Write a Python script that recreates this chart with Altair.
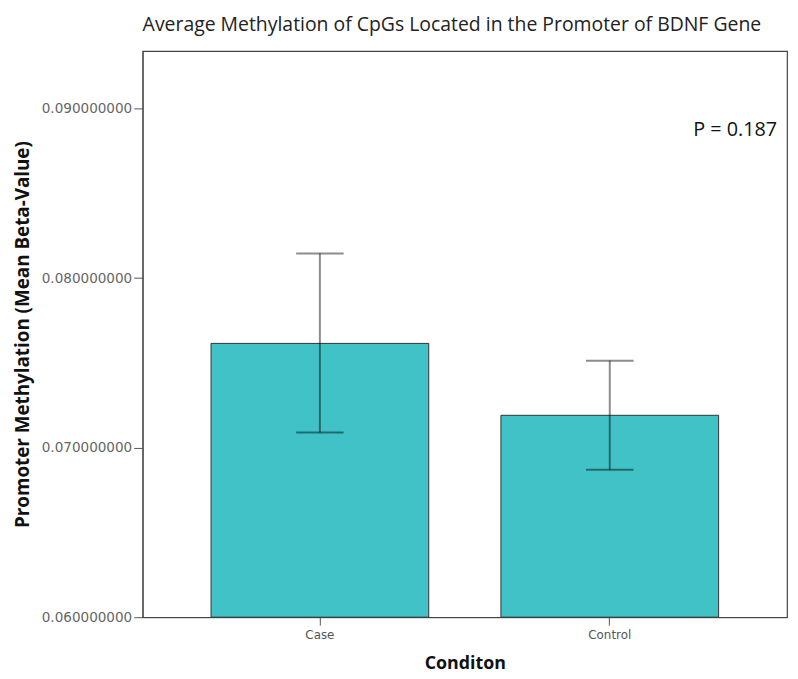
import altair as alt
import pandas as pd

conditions = ["Case", "Control"]
means = [0.07615, 0.07191]
lower = [0.07090, 0.06870]
upper = [0.08146, 0.07513]

p_label = ["P = 0.187"]
p_y = [0.08872]

df = pd.DataFrame({"cond": conditions, "mean": means, "lo": lower, "hi": upper})
ann = pd.DataFrame({"label": p_label, "y": p_y})

ydom = [0.06, 0.0934]

x_enc = alt.X("cond:N", title="Conditon",
              scale=alt.Scale(paddingInner=0.249, paddingOuter=0.236),
              axis=alt.Axis(labelAngle=0, labelFont="DejaVu Sans", labelFontSize=12,
                            labelColor="#555", tickColor="#555", tickSize=8,
                            domainColor="#444", titleFont="Open Sans", titleFontSize=18,
                            titleFontWeight="bold", titleColor="#111", titlePadding=14,
                            labelPadding=5))
y_scale = alt.Scale(domain=ydom, nice=False, zero=False)
y_axis = alt.Axis(values=[0.06, 0.07, 0.08, 0.09], format=".9f", labelFont="DejaVu Sans",
                  labelFontSize=13.7, labelColor="#666", tickColor="#555", tickSize=9,
                  domainColor="#444", grid=False, titleFont="Open Sans", titleFontSize=19,
                  titleFontWeight="bold", titleColor="#111", titlePadding=9, labelPadding=2)

bars = alt.Chart(df).mark_bar(color="#40C2C6", stroke="#333", strokeWidth=1).encode(
    x=x_enc,
    y=alt.Y("mean:Q", scale=y_scale, axis=y_axis, title="Promoter Methylation (Mean Beta-Value)"),
    y2=alt.datum(0.06),
)

rule = alt.Chart(df).mark_rule(color="black", opacity=0.45, strokeWidth=2).encode(
    x="cond:N", y="lo:Q", y2="hi:Q")
cap_lo = alt.Chart(df).mark_tick(color="black", opacity=0.45, thickness=2, size=48,
                                 orient="horizontal").encode(x="cond:N", y="lo:Q")
cap_hi = alt.Chart(df).mark_tick(color="black", opacity=0.45, thickness=2, size=48,
                                 orient="horizontal").encode(x="cond:N", y="hi:Q")

ptext = alt.Chart(ann).mark_text(align="right", baseline="middle", font="Open Sans",
                                 fontSize=20, color="#111").encode(
    x=alt.value(641), y=alt.Y("y:Q", scale=y_scale), text="label:N")

chart = alt.layer(bars, rule, cap_lo, cap_hi, ptext).properties(
    width=651, height=572,
    title=alt.TitleParams("Average Methylation of CpGs Located in the Promoter of BDNF Gene",
                          font="Open Sans", fontSize=19.6, fontWeight="normal", color="#222",
                          anchor="start", frame="group", baseline="alphabetic", offset=1),
    autosize=alt.AutoSizeParams(type="none"),
    padding={"left": 136, "top": 40, "right": 3, "bottom": 59},
).configure_view(stroke="#444", strokeWidth=1.2)

chart.save("out.html", embed_options={"renderer": "svg", "actions": False})
